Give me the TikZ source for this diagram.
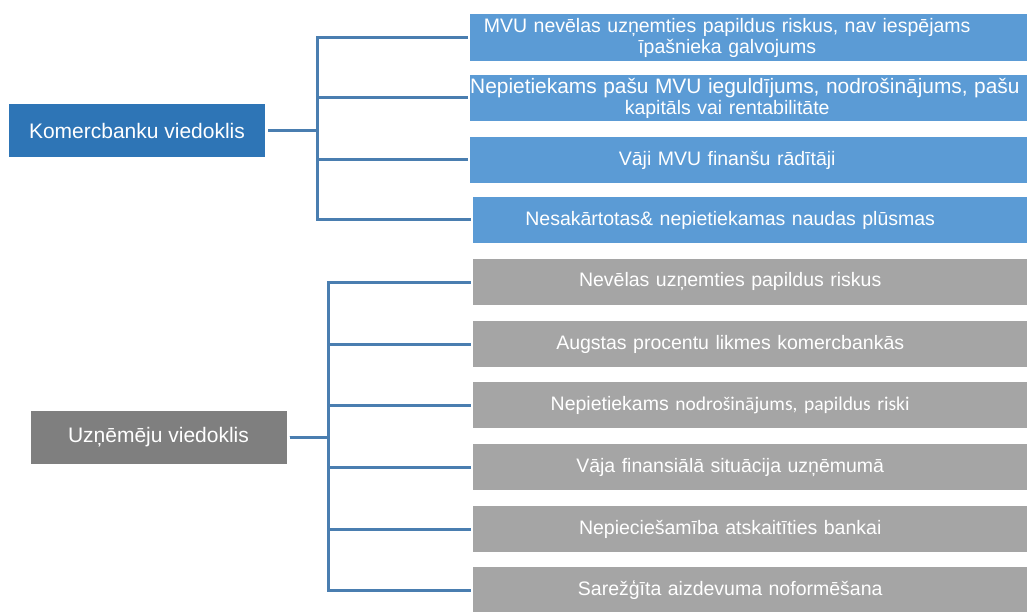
\documentclass[tikz,border=0pt]{standalone}
\usepackage{fontspec}
\setmainfont{Liberation Sans}
\newfontfamily\calibri{Carlito}
\usetikzlibrary{positioning,backgrounds}
\definecolor{kbdark}{HTML}{2E75B6}
\definecolor{kblight}{HTML}{5B9BD5}
\definecolor{uzdark}{HTML}{7F7F7F}
\definecolor{uzlight}{HTML}{A5A5A5}
\definecolor{conncol}{HTML}{4A7EB0}

\begin{document}
\begin{tikzpicture}[x=1pt, y=-1pt,
  head/.style={font=\fontsize{21}{24}\selectfont, text=white, minimum width=256pt, minimum height=53pt, inner sep=0pt},
  item/.style={font=\fontsize{19.5}{21}\selectfont, text=white, anchor=west, text width=514pt, align=center, inner sep=0pt, minimum height=46pt},
  conn/.style={draw=conncol, line width=3pt, shorten <=3pt, shorten >=2pt}]
\useasboundingbox (0,0) rectangle (1027,612);
\coordinate (edge) at (1040,0);

%komercbankas
\node[head, fill=kbdark] (kb) at (137,130.5) {Komercbanku viedoklis};
\node[item] (k1) at (470,37.5) {MVU nevēlas uzņemties papildus riskus, nav iespējams\\ īpašnieka galvojums};
\node[item] (k2) at (470,98) {\mbox{\fontsize{20.9}{21}\selectfont Nepietiekams pašu MVU ieguldījums, nodrošinājums, pašu}\\ kapitāls vai rentabilitāte};
\node[item] (k3) at (470,160) {Vāji MVU finanšu rādītāji};
\node[item] (k4) at (473,220) {Nesakārtotas\& nepietiekamas naudas plūsmas};
\foreach \i in {1,...,4}{
  \begin{scope}[on background layer]
    \fill[kblight] (k\i.north west) rectangle (edge |- k\i.south);
  \end{scope}
  \draw[conn] (kb.east) -- ++(52,0) |- (k\i.west);
}

%uznemeji
\node[head, fill=uzdark] (uz) at (158.5,437.5) {Uzņēmēju viedoklis};
\node[item] (u1) at (473,282) {Nevēlas uzņemties papildus riskus};
\node[item] (u2) at (473,344) {Augstas procentu likmes komercbankās};
\node[item] (u3) at (473,405) {Nepietiekams {\calibri nodrošinājums, papildus riski}};
\node[item] (u4) at (473,467) {Vāja finansiālā situācija uzņēmumā};
\node[item] (u5) at (473,529) {Nepieciešamība atskaitīties bankai};
\node[item] (u6) at (473,590) {Sarežģīta aizdevuma noformēšana};
\foreach \i in {1,...,6}{
  \begin{scope}[on background layer]
    \fill[uzlight] (u\i.north west) rectangle (edge |- u\i.south);
  \end{scope}
  \draw[conn] (uz.east) -- ++(42,0) |- (u\i.west);
}
\end{tikzpicture}
\end{document}
